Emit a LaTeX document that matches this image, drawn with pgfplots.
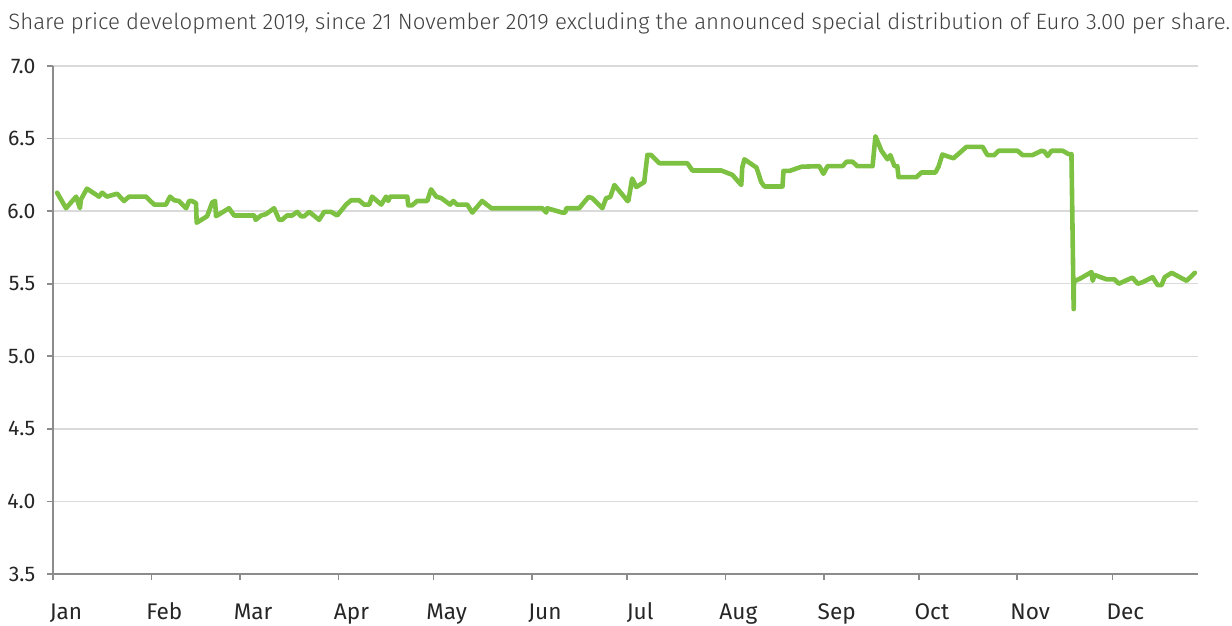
\documentclass[border=0pt]{standalone}
\usepackage{fontspec}
\usepackage{pgfplots}
\pgfplotsset{compat=1.18}
\setmainfont{Fira Sans}
\newfontfamily\titlefont{Fira Sans Light}
\newfontfamily\tickfont{Fira Sans}
\definecolor{linegreen}{HTML}{7DC142}
\definecolor{gridgray}{HTML}{DADADA}
\definecolor{axisgray}{HTML}{8C8C8C}
\definecolor{titlegray}{HTML}{404040}
\begin{document}
\begin{tikzpicture}[x=1pt,y=1pt]
\useasboundingbox (-26.5pt,-26pt) rectangle (589.5pt,287pt);
\begin{axis}[
  at={(0pt,0pt)}, anchor=south west,
  scale only axis, width=572.5pt, height=254pt,
  xmin=0, xmax=361, ymin=3.5, ymax=7.0,
  axis x line=bottom, axis y line=left,
  axis line style={axisgray, line width=1pt, -},
  xtick={0,31,59,90,120,151,181,212,243,273,304,334},
  xticklabels={Jan,Feb,Mar,Apr,May,Jun,Jul,Aug,Sep,Oct,Nov,Dec},
  ytick={3.5,4.0,4.5,5.0,5.5,6.0,6.5,7.0},
  /pgf/number format/fixed, /pgf/number format/fixed zerofill,
  /pgf/number format/precision=1, /pgf/number format/assume math mode=true,
  ymajorgrids, grid style={gridgray, line width=0.75pt},
  major tick length=2.8pt,
  tick style={axisgray, line width=0.8pt},
  xtick align=outside, ytick align=outside,
  tick label style={text=black!85},
  xticklabel style={font=\tickfont\fontsize{11.3}{12}\selectfont, anchor=base, xshift=6.5pt, yshift=-20pt},
  yticklabel style={font=\tickfont\fontsize{10.6}{12}\selectfont, xshift=-2.5pt},
  clip=false,
]
\addplot[linegreen, line width=2.3pt, line join=round, line cap=round] coordinates {
(1.3,6.127) (4.1,6.02) (7.3,6.10) (8.5,6.02) (8.8,6.08) (10.7,6.155) (14.5,6.10) (15.5,6.127)
(17.0,6.10) (20.2,6.12) (22.4,6.07) (24.0,6.10) (29.3,6.10) (31.9,6.045) (35.6,6.045) (36.9,6.10)
(38.2,6.075) (39.7,6.07) (42.0,6.02) (42.9,6.07) (43.8,6.07) (45.1,6.055) (45.3,5.92) (48.6,5.965)
(50.2,6.06) (51.1,6.07) (51.4,5.965) (55.5,6.02) (57.1,5.97) (63.5,5.97) (63.9,5.94) (65.6,5.97)
(67.2,5.98) (69.7,6.02) (71.3,5.94) (72.2,5.94) (73.8,5.97) (75.4,5.97) (77.0,5.995) (78.2,5.965)
(79.2,5.965) (80.8,5.995) (83.9,5.94) (85.5,5.995) (87.7,5.995) (89.6,5.97) (92.4,6.045) (94.0,6.075)
(96.5,6.075) (98.1,6.045) (99.7,6.045) (100.6,6.10) (103.5,6.045) (105.0,6.10) (105.7,6.07) (106.3,6.10)
(111.7,6.10) (112.0,6.04) (113.2,6.04) (114.8,6.07) (118.0,6.07) (119.2,6.15) (120.8,6.10) (122.4,6.09)
(125.2,6.045) (126.2,6.07) (127.4,6.045) (130.6,6.045) (132.2,5.99) (135.3,6.07) (138.2,6.02) (154.3,6.02)
(155.5,5.99) (155.8,6.02) (160.6,5.99) (161.5,5.99) (161.8,6.02) (165.9,6.02) (168.8,6.097) (170.0,6.09)
(173.2,6.02) (174.4,6.09) (175.7,6.097) (177.0,6.18) (180.4,6.09) (181.1,6.07) (181.4,6.07) (182.6,6.225)
(183.9,6.166) (186.4,6.20) (187.4,6.387) (188.6,6.387) (191.2,6.33) (200.0,6.33) (201.6,6.28) (210.7,6.28)
(214.2,6.25) (217.0,6.18) (217.3,6.30) (218.0,6.357) (221.8,6.30) (223.3,6.20) (224.3,6.17) (230.0,6.17)
(230.3,6.277) (232.2,6.277) (236.0,6.306) (241.6,6.31) (242.9,6.257) (244.2,6.31) (248.9,6.31) (250.2,6.34)
(252.1,6.34) (253.6,6.31) (258.4,6.31) (259.3,6.516) (261.2,6.416) (263.1,6.357) (264.0,6.386) (265.3,6.31)
(266.2,6.31) (266.6,6.234) (272.2,6.234) (273.8,6.266) (278.2,6.266) (279.2,6.307) (280.4,6.39) (283.9,6.364)
(288.0,6.443) (293.1,6.443) (294.6,6.386) (296.8,6.386) (298.1,6.416) (304.1,6.416) (305.7,6.386) (308.8,6.386)
(311.7,6.416) (312.6,6.41) (313.6,6.38) (314.8,6.416) (318.3,6.416) (320.2,6.393) (321.1,6.393) (321.8,5.325)
(321.9,5.516) (323.7,5.534) (327.4,5.58) (327.8,5.52) (328.4,5.56) (332.2,5.53) (334.7,5.53) (336.0,5.50)
(340.1,5.54) (340.4,5.54) (342.0,5.50) (343.5,5.51) (346.7,5.545) (348.3,5.49) (349.5,5.49) (350.5,5.545)
(352.7,5.575) (357.4,5.52) (360.0,5.575)
};
\end{axis}
\node[anchor=base west, inner sep=0pt, text=titlegray, font=\titlefont\fontsize{11.1}{12}\selectfont] at (-22.5pt,272pt)
  {Share price development 2019, since 21 November 2019 excluding the announced special distribution of Euro 3.00 per share.};
\end{tikzpicture}
\end{document}
